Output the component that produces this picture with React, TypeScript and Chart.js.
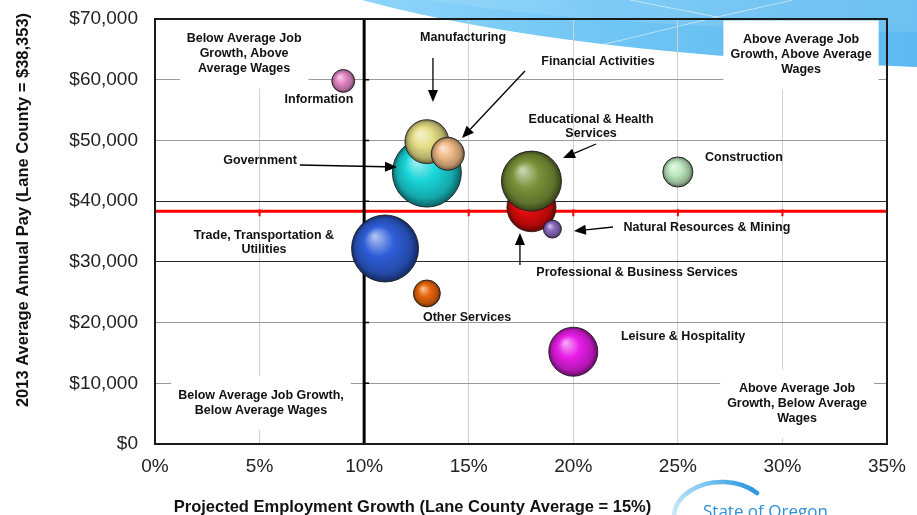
import React, { useEffect, useRef } from 'react';
import { Chart, registerables } from 'chart.js';

Chart.register(...registerables);

const W = 917;
const H = 515;
const FONT = '"Liberation Sans", Arial, Helvetica, sans-serif';

// ---- data ----
const industries = [
  'Trade, Transportation & Utilities',
  'Government',
  'Manufacturing',
  'Financial Activities',
  'Other Services',
  'Information',
  'Professional & Business Services',
  'Educational & Health Services',
  'Natural Resources & Mining',
  'Leisure & Hospitality',
  'Construction',
];
const growthPct = [11, 13, 13, 14, 13, 9, 18, 18, 19, 20, 25];
const avgPay = [32200, 44700, 49800, 47800, 24800, 59800, 39000, 43300, 35400, 15200, 44800];
const employment = [19800, 21000, 8500, 4800, 3200, 2300, 10600, 15900, 1430, 10600, 4000];
const bubbleColors = [
  '#2e5ed8', '#19d6da', '#e6de86', '#efb986', '#e8650a', '#e286c6',
  '#e00c0c', '#7a9238', '#8868bf', '#e81de8', '#bde8be',
];

const xTicksPct = [0, 5, 10, 15, 20, 25, 30, 35];
const yTicksPay = [0, 10000, 20000, 30000, 40000, 50000, 60000, 70000];

const countyAvgPay = 38353;
const growthDivider = 10;

const yTitle = '2013 Average Annual Pay (Lane County = $38,353)';
const xTitle = 'Projected Employment Growth (Lane County Average = 15%)';

// Industry labels (data coordinates)
const labelTexts = [
  'Information',
  'Manufacturing',
  'Financial Activities',
  'Government',
  'Educational & Health\nServices',
  'Construction',
  'Natural Resources & Mining',
  'Trade, Transportation &\nUtilities',
  'Professional & Business Services',
  'Other Services',
  'Leisure & Hospitality',
];
const labelX = [7.84, 14.73, 21.18, 5.02, 20.85, 28.16, 26.39, 5.21, 23.05, 14.92, 25.25];
const labelY = [56660, 66870, 62920, 46610, 52290, 47100, 35580, 33100, 28160, 20750, 17620];

// Quadrant notes (data coordinates of block centre)
const quadTexts = [
  'Below Average Job\nGrowth, Above\nAverage Wages',
  'Above Average Job\nGrowth, Above Average\nWages',
  'Below Average Job Growth,\nBelow Average Wages',
  'Above Average Job\nGrowth, Below Average\nWages',
];
const quadX = [4.26, 30.89, 5.07, 30.7];
const quadY = [64230, 64070, 6750, 6590];

// Arrows (data coordinates)
const arrowFromX = [13.29, 17.69, 6.93, 21.09, 21.9, 17.45];
const arrowFromY = [63570, 61430, 45950, 49410, 35740, 29480];
const arrowToX = [13.29, 14.68, 11.57, 19.51, 20.03, 17.45];
const arrowToY = [56330, 50400, 45620, 47100, 35080, 34750];

// ---- helpers ----
function hexRgb(h: string): number[] {
  const v = h.replace('#', '');
  return [parseInt(v.slice(0, 2), 16), parseInt(v.slice(2, 4), 16), parseInt(v.slice(4, 6), 16)];
}
function mix(h: string, target: number[], t: number): string {
  const c = hexRgb(h);
  const r = c.map((v, i) => Math.round(v + (target[i] - v) * t));
  return `rgb(${r[0]},${r[1]},${r[2]})`;
}

function drawLines(ctx: CanvasRenderingContext2D, text: string, cx: number, cy: number, lh: number) {
  const lines = text.split('\n');
  lines.forEach((ln, i) => {
    ctx.fillText(ln, cx, cy + (i - (lines.length - 1) / 2) * lh);
  });
}

const decor = {
  id: 'decor',
  beforeDraw(chart: any) {
    const ctx: CanvasRenderingContext2D = chart.ctx;
    ctx.save();
    ctx.fillStyle = '#ffffff';
    ctx.fillRect(0, 0, W, H);
    // blue swoosh at the top right
    ctx.beginPath();
    ctx.moveTo(362, 0);
    ctx.quadraticCurveTo(560, 54, 917, 67);
    ctx.lineTo(917, 0);
    ctx.closePath();
    const g = ctx.createLinearGradient(362, 0, 917, 60);
    g.addColorStop(0, '#8fd5fa');
    g.addColorStop(0.45, '#6fc5f4');
    g.addColorStop(1, '#5db9f0');
    ctx.fillStyle = g;
    ctx.fill();
    ctx.beginPath();
    ctx.moveTo(430, 0);
    ctx.quadraticCurveTo(600, 28, 917, 32);
    ctx.lineTo(917, 0);
    ctx.closePath();
    ctx.fillStyle = 'rgba(255,255,255,0.10)';
    ctx.fill();
    ctx.strokeStyle = 'rgba(255,255,255,0.65)';
    ctx.lineWidth = 0.8;
    ctx.beginPath();
    ctx.moveTo(630, 0);
    ctx.lineTo(717, 17);
    ctx.lineTo(793, 0);
    ctx.moveTo(717, 17);
    ctx.lineTo(593, 47);
    ctx.stroke();
    ctx.restore();
  },
  beforeDatasetsDraw(chart: any) {
    const ctx: CanvasRenderingContext2D = chart.ctx;
    const a = chart.chartArea;
    const xs = chart.scales.x;
    const ys = chart.scales.y;
    ctx.save();
    ctx.beginPath();
    ctx.rect(a.left, a.top, a.right - a.left, a.bottom - a.top);
    ctx.clip();
    // quadrant boxes
    ctx.font = `bold 12.5px ${FONT}`;
    ctx.textAlign = 'center';
    ctx.textBaseline = 'middle';
    quadTexts.forEach((t, i) => {
      const cx = xs.getPixelForValue(quadX[i]);
      const cy = ys.getPixelForValue(quadY[i]);
      const lines = t.split('\n');
      const w = Math.max(...lines.map((l) => ctx.measureText(l).width));
      const h = lines.length * 15;
      ctx.fillStyle = '#ffffff';
      ctx.fillRect(cx - w / 2 - 7, cy - h / 2 - 12, w + 14, h + 24);
    });
    ctx.fillStyle = '#111111';
    quadTexts.forEach((t, i) => {
      drawLines(ctx, t, xs.getPixelForValue(quadX[i]), ys.getPixelForValue(quadY[i]), 15);
    });
    // red average-pay line
    const ry = ys.getPixelForValue(countyAvgPay);
    ctx.strokeStyle = '#ff0000';
    ctx.lineWidth = 3;
    ctx.beginPath();
    ctx.moveTo(a.left, ry);
    ctx.lineTo(a.right, ry);
    ctx.stroke();
    ctx.lineWidth = 2;
    ctx.beginPath();
    xTicksPct.forEach((v) => {
      const px = xs.getPixelForValue(v);
      ctx.moveTo(px, ry - 2);
      ctx.lineTo(px, ry + 5);
    });
    ctx.stroke();
    // black divider
    const dx = xs.getPixelForValue(growthDivider);
    ctx.strokeStyle = '#000000';
    ctx.lineWidth = 3;
    ctx.beginPath();
    ctx.moveTo(dx, a.top);
    ctx.lineTo(dx, a.bottom);
    ctx.stroke();
    ctx.lineWidth = 1.5;
    ctx.beginPath();
    yTicksPay.forEach((v) => {
      const py = ys.getPixelForValue(v);
      ctx.moveTo(dx, py);
      ctx.lineTo(dx + 5, py);
    });
    ctx.stroke();
    ctx.restore();
    // plot border
    ctx.save();
    ctx.strokeStyle = '#1a1a1a';
    ctx.lineWidth = 2;
    ctx.strokeRect(a.left, a.top, a.right - a.left, a.bottom - a.top);
    ctx.restore();
  },
  afterDatasetsDraw(chart: any) {
    const ctx: CanvasRenderingContext2D = chart.ctx;
    const xs = chart.scales.x;
    const ys = chart.scales.y;
    ctx.save();
    ctx.font = `bold 12.5px ${FONT}`;
    ctx.textAlign = 'center';
    ctx.textBaseline = 'middle';
    ctx.fillStyle = '#111111';
    labelTexts.forEach((t, i) => {
      drawLines(ctx, t, xs.getPixelForValue(labelX[i]), ys.getPixelForValue(labelY[i]), 14);
    });
    // arrows
    ctx.strokeStyle = '#000000';
    ctx.lineWidth = 1.3;
    arrowFromX.forEach((_, i) => {
      const x1 = xs.getPixelForValue(arrowFromX[i]);
      const y1 = ys.getPixelForValue(arrowFromY[i]);
      const x2 = xs.getPixelForValue(arrowToX[i]);
      const y2 = ys.getPixelForValue(arrowToY[i]);
      const ang = Math.atan2(y2 - y1, x2 - x1);
      const L = 12;
      const hw = 5;
      const bx = x2 - Math.cos(ang) * L;
      const by = y2 - Math.sin(ang) * L;
      ctx.beginPath();
      ctx.moveTo(x1, y1);
      ctx.lineTo(bx, by);
      ctx.stroke();
      ctx.beginPath();
      ctx.moveTo(x2, y2);
      ctx.lineTo(bx + Math.sin(ang) * hw, by - Math.cos(ang) * hw);
      ctx.lineTo(bx - Math.sin(ang) * hw, by + Math.cos(ang) * hw);
      ctx.closePath();
      ctx.fillStyle = '#000000';
      ctx.fill();
    });
    ctx.restore();
  },
  afterDraw(chart: any) {
    const ctx: CanvasRenderingContext2D = chart.ctx;
    ctx.save();
    ctx.fillStyle = '#111111';
    ctx.font = `bold 16.5px ${FONT}`;
    ctx.textAlign = 'center';
    ctx.textBaseline = 'alphabetic';
    ctx.fillText(xTitle, 412.5, 512);
    ctx.translate(28, 210);
    ctx.rotate(-Math.PI / 2);
    ctx.fillText(yTitle, 0, 0);
    ctx.restore();
    // State of Oregon logo
    ctx.save();
    const lg = ctx.createLinearGradient(672, 515, 750, 485);
    lg.addColorStop(0, '#cde9fa');
    lg.addColorStop(0.5, '#7cc6f1');
    lg.addColorStop(1, '#2f9ae0');
    ctx.strokeStyle = lg;
    ctx.lineWidth = 4.5;
    ctx.lineCap = 'round';
    ctx.beginPath();
    ctx.ellipse(722, 517, 48, 35, 0, Math.PI * 1.02, Math.PI * 1.76);
    ctx.stroke();
    ctx.fillStyle = '#2b90d8';
    ctx.font = `17px "Open Sans", "Noto Sans", sans-serif`;
    ctx.textAlign = 'left';
    ctx.textBaseline = 'alphabetic';
    ctx.fillText('State of Oregon', 703, 517);
    ctx.restore();
  },
};

export default function App() {
  const ref = useRef<HTMLCanvasElement | null>(null);
  useEffect(() => {
    const canvas = ref.current;
    if (!canvas) return;
    const points = industries.map((name, i) => ({
      x: growthPct[i],
      y: avgPay[i],
      r: 34.5 * Math.sqrt(employment[i] / 21000),
    }));
    const chart = new Chart(canvas, {
      type: 'bubble',
      data: {
        datasets: [
          {
            label: 'Industries',
            data: points,
            borderColor: 'rgba(25,25,25,0.85)',
            borderWidth: 1,
            backgroundColor: (c: any) => {
              const base = bubbleColors[c.dataIndex] || '#888888';
              const raw = c.raw;
              const ch = c.chart;
              if (!raw || !ch.scales || !ch.scales.x || !ch.scales.y) return base;
              const px = ch.scales.x.getPixelForValue(raw.x);
              const py = ch.scales.y.getPixelForValue(raw.y);
              const r = raw.r;
              if (!isFinite(px) || !isFinite(py)) return base;
              const g = ch.ctx.createRadialGradient(px - 0.32 * r, py - 0.38 * r, 0, px, py, r);
              g.addColorStop(0, mix(base, [255, 255, 255], 0.65));
              g.addColorStop(0.45, base);
              g.addColorStop(0.82, mix(base, [0, 0, 0], 0.22));
              g.addColorStop(1, mix(base, [0, 0, 0], 0.55));
              return g;
            },
          },
        ],
      },
      options: {
        responsive: false,
        animation: false,
        events: [],
        devicePixelRatio: 1,
        layout: { autoPadding: false, padding: { left: 0, right: 30, top: 19, bottom: 0 } },
        plugins: {
          legend: { display: false },
          tooltip: { enabled: false },
          title: { display: false },
        },
        scales: {
          x: {
            type: 'linear',
            min: 0,
            max: 35,
            afterFit: (s: any) => {
              s.height = 71;
              s.paddingLeft = 0;
              s.paddingRight = 0;
              s.paddingTop = 0;
              s.paddingBottom = 0;
            },
            afterBuildTicks: (s: any) => {
              s.ticks = xTicksPct.map((v) => ({ value: v }));
            },
            border: { display: false },
            ticks: {
              callback: (v: any) => `${v}%`,
              font: { family: FONT, size: 19 },
              color: '#222222',
              padding: 11,
            },
            grid: {
              drawTicks: false,
              lineWidth: 1,
              color: (c: any) => {
                const v = c.tick ? c.tick.value : -1;
                return v === 0 || v === 35 || v === growthDivider ? 'rgba(0,0,0,0)' : '#d0d0d0';
              },
            },
          },
          y: {
            type: 'linear',
            min: 0,
            max: 70000,
            afterFit: (s: any) => {
              s.width = 155;
              s.paddingLeft = 0;
              s.paddingRight = 0;
              s.paddingTop = 0;
              s.paddingBottom = 0;
            },
            afterBuildTicks: (s: any) => {
              s.ticks = yTicksPay.map((v) => ({ value: v }));
            },
            border: { display: false },
            ticks: {
              callback: (v: any) => '$' + Number(v).toLocaleString('en-US'),
              font: { family: FONT, size: 19 },
              color: '#222222',
              padding: 17,
            },
            grid: {
              drawTicks: false,
              lineWidth: 1,
              color: (c: any) => {
                const v = c.tick ? c.tick.value : -1;
                if (v === 0 || v === 70000) return 'rgba(0,0,0,0)';
                if (v === 30000 || v === 40000) return '#2a2a2a';
                return '#9a9a9a';
              },
            },
          },
        },
      },
      plugins: [decor],
    } as any);
    return () => {
      chart.destroy();
    };
  }, []);

  return (
    <div style={{ position: 'absolute', left: 0, top: 0, width: W, height: H, background: '#fff' }}>
      <canvas ref={ref} width={W} height={H} style={{ display: 'block', width: W, height: H }} />
    </div>
  );
}
